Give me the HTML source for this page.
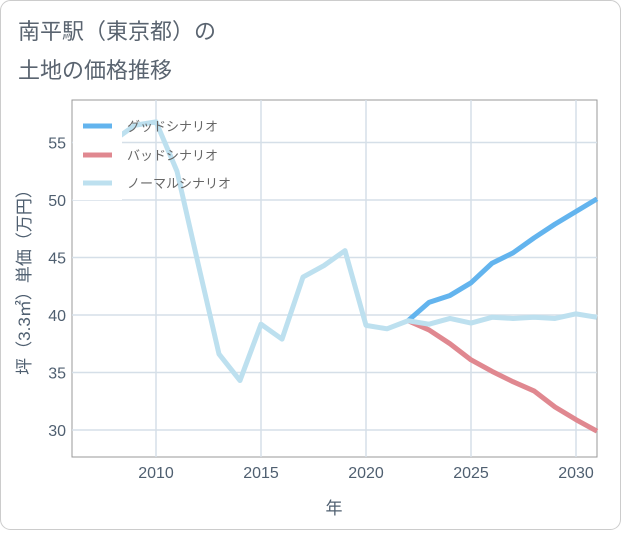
<!DOCTYPE html>
<html><head><meta charset="utf-8"><style>
body{margin:0;background:#fff;font-family:"Liberation Sans","Noto Sans CJK JP",sans-serif;}
</style></head><body>
<svg id="chart" width="621" height="530" xmlns="http://www.w3.org/2000/svg" font-family="'Liberation Sans','Noto Sans CJK JP',sans-serif">
<rect x="0.5" y="0.5" width="620" height="529" rx="10" fill="#fff" stroke="#ccc"/>
<text x="18" y="39" font-size="22" fill="#5a6470">南平駅（東京都）の</text>
<text x="18" y="78" font-size="22" fill="#5a6470">土地の価格推移</text>
<rect x="72" y="100" width="525" height="357" fill="#fff" stroke="#999"/>
<g id="grid"></g><g id="lines"></g><g id="ticks"></g>
<text x="334" y="514" font-size="17" fill="#4f5f70" text-anchor="middle">年</text>
<text transform="translate(30,278) rotate(-90)" font-size="17" fill="#4f5f70" text-anchor="middle">坪（3.3㎡）単価（万円）</text>
<g>
<rect x="73" y="110" width="49" height="90" fill="#fff"/>
<line x1="83" y1="126" x2="112" y2="126" stroke="#63b4ee" stroke-width="5"/>
<text x="127" y="131" font-size="13" fill="#666">グッドシナリオ</text>
<line x1="83" y1="155" x2="112" y2="155" stroke="#e08890" stroke-width="5"/>
<text x="127" y="160" font-size="13" fill="#666">バッドシナリオ</text>
<line x1="83" y1="183" x2="112" y2="183" stroke="#bde0ef" stroke-width="5"/>
<text x="127" y="188" font-size="13" fill="#666">ノーマルシナリオ</text>
</g>
</svg>
<script>
const normalYears=[2008,2009,2010,2011,2012,2013,2014,2015,2016,2017,2018,2019,2020,2021,2022,2023,2024,2025,2026,2027,2028,2029,2030,2031];
const normalValues=[55.2,56.5,56.8,52.5,44.5,36.6,34.3,39.2,37.9,43.3,44.3,45.6,39.1,38.8,39.5,39.2,39.7,39.3,39.8,39.7,39.8,39.7,40.1,39.8];
const scenarioYears=[2022,2023,2024,2025,2026,2027,2028,2029,2030,2031];
const goodValues=[39.5,41.1,41.7,42.8,44.5,45.4,46.7,47.9,49.0,50.1];
const badValues=[39.5,38.7,37.5,36.1,35.1,34.2,33.4,32.0,30.9,29.9];
const xTicks=[2010,2015,2020,2025,2030];
const yTicks=[30,35,40,45,50,55];
const NS="http://www.w3.org/2000/svg";
const x=v=>72+(v-2006)*21;
const y=v=>430-(v-30)*11.5;
const grid=document.getElementById('grid'),ticks=document.getElementById('ticks'),lines=document.getElementById('lines');
function mk(t,a,p){const e=document.createElementNS(NS,t);for(const k in a)e.setAttribute(k,a[k]);p.appendChild(e);return e;}
xTicks.forEach(t=>{
const g=mk('line',{x1:x(t),x2:x(t),y1:100,y2:457,stroke:'#d5dfe8','stroke-width':1.5},grid);


const l=mk('text',{x:x(t),y:478,'font-size':16,fill:'#4f5f70','text-anchor':'middle'},ticks);l.textContent=t;


});
yTicks.forEach(t=>{
const g=mk('line',{x1:72,x2:597,y1:y(t),y2:y(t),stroke:'#d5dfe8','stroke-width':1.5},grid);


const l=mk('text',{x:66,y:y(t)+6,'font-size':16,fill:'#4f5f70','text-anchor':'end'},ticks);l.textContent=t;


});
function line(xs,vs,c,name){
const p=mk('polyline',{points:xs.map((v,i)=>x(v)+','+y(vs[i])).join(' '),fill:'none',stroke:c,'stroke-width':5,'stroke-linejoin':'round'},lines);


}
line(scenarioYears,goodValues,'#63b4ee','good-scenario-line');
line(scenarioYears,badValues,'#e08890','bad-scenario-line');
line(normalYears,normalValues,'#bde0ef','normal-scenario-line');
</script>
</body></html>
